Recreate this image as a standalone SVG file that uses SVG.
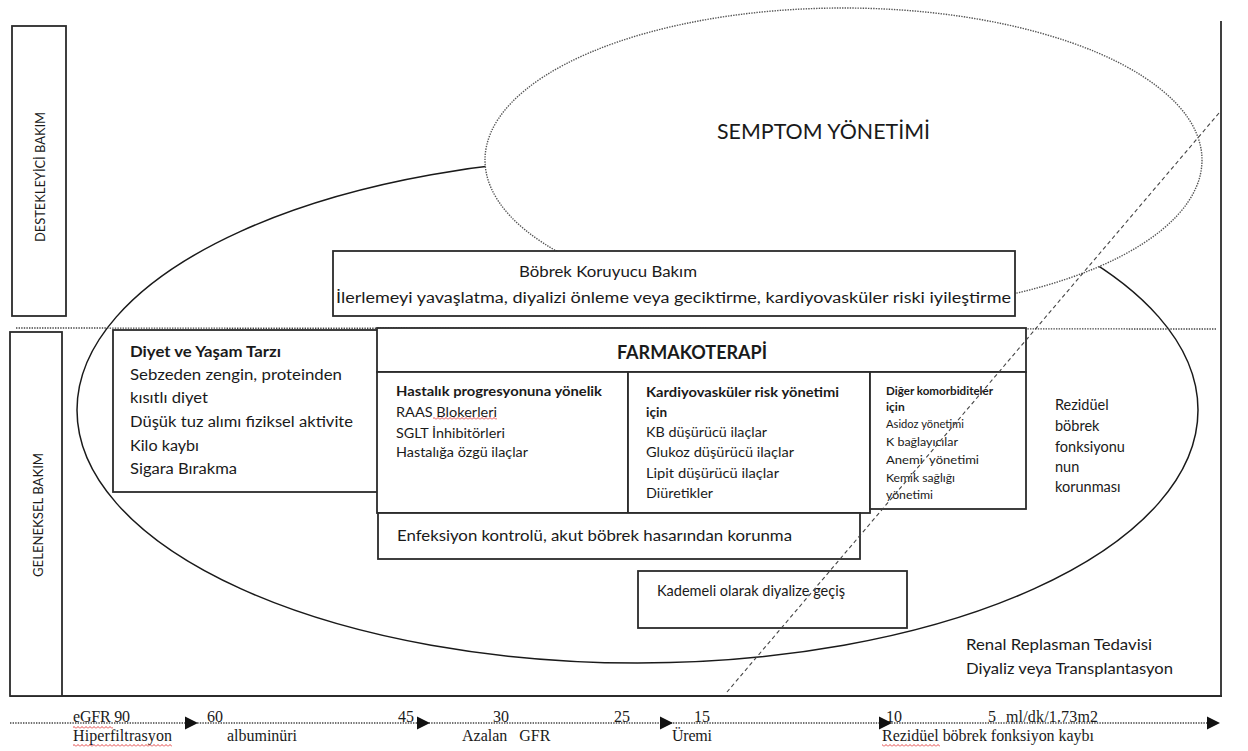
<svg xmlns="http://www.w3.org/2000/svg" width="1248" height="751" viewBox="0 0 1248 751">
<style>
.box{fill:#fff;stroke:#2b2b2b;stroke-width:1.8}
.ln{fill:none;stroke:#2b2b2b;stroke-width:1.8}
.dot{fill:none;stroke:#444;stroke-width:1.4;stroke-dasharray:1.4 1.2}
.dotw{fill:#fff;stroke:#555;stroke-width:1.4;stroke-dasharray:1.4 1.2}
.t{font-family:Lato,"Open Sans","DejaVu Sans",sans-serif;fill:#1a1a1a}
.b{font-weight:bold}
.ax{font-family:"Liberation Serif","Times New Roman",serif;font-size:16px;fill:#1a1a1a}
.pre{white-space:pre}
.wv{fill:url(#wavy)}
</style>
<defs>
<pattern id="wavy" width="4" height="3" patternUnits="userSpaceOnUse">
<path d="M0 2.5 L2 0.5 L4 2.5" fill="none" stroke="#e03030" stroke-width="0.9"/>
</pattern>
<polygon id="arr" points="0,0 -13,-6.5 -13,6.5" fill="#111"/>
</defs>
<rect width="1248" height="751" fill="#fff"/>

<g id="frame">
<ellipse id="main-ellipse" cx="637.5" cy="410" rx="560.5" ry="253" fill="none" stroke="#1a1a1a" stroke-width="1.5"/>
<g id="semptom">
<ellipse class="dotw" cx="843.5" cy="160" rx="358.5" ry="152"/>
<text class="t" x="717" y="139" font-size="22" textLength="213" lengthAdjust="spacingAndGlyphs">SEMPTOM YÖNETİMİ</text>
</g>
<line class="dot" x1="16" y1="328" x2="1217" y2="329"/>
<line class="ln" x1="1221" y1="21" x2="1221" y2="696"/>
<line class="ln" x1="10" y1="696" x2="1222" y2="696"/>
</g>

<g id="destekleyici">
<rect class="box" x="12" y="26" width="54" height="290"/>
<text class="t" font-size="13.5" text-anchor="middle" textLength="130" lengthAdjust="spacingAndGlyphs" transform="translate(44.5,177) rotate(-90)">DESTEKLEYİCİ BAKIM</text>
</g>
<g id="geleneksel">
<rect class="box" x="10" y="332" width="52" height="364"/>
<text class="t" font-size="13.5" text-anchor="middle" textLength="124" lengthAdjust="spacingAndGlyphs" transform="translate(42.5,515) rotate(-90)">GELENEKSEL BAKIM</text>
</g>

<g id="bobrek">
<rect class="box" x="333" y="251" width="682" height="65"/>
<text class="t" x="519" y="276.5" font-size="15.5" textLength="178" lengthAdjust="spacingAndGlyphs">Böbrek Koruyucu Bakım</text>
<text class="t" x="336" y="302.5" font-size="15.5" textLength="675" lengthAdjust="spacingAndGlyphs">İlerlemeyi yavaşlatma, diyalizi önleme veya geciktirme, kardiyovasküler riski iyileştirme</text>
</g>

<g id="diyet">
<rect class="box" x="113" y="330" width="265" height="162"/>
<text class="t b" x="130" y="357" font-size="14.5" textLength="151" lengthAdjust="spacingAndGlyphs">Diyet ve Yaşam Tarzı</text>
<text class="t" x="130" y="380" font-size="14.5" textLength="212" lengthAdjust="spacingAndGlyphs">Sebzeden zengin, proteinden</text>
<text class="t" x="130" y="403" font-size="14.5" textLength="78" lengthAdjust="spacingAndGlyphs">kısıtlı diyet</text>
<text class="t" x="130" y="427" font-size="14.5" textLength="223" lengthAdjust="spacingAndGlyphs">Düşük tuz alımı fiziksel aktivite</text>
<text class="t" x="130" y="451" font-size="14.5" textLength="69" lengthAdjust="spacingAndGlyphs">Kilo kaybı</text>
<text class="t" x="130" y="474" font-size="14.5" textLength="107" lengthAdjust="spacingAndGlyphs">Sigara Bırakma</text>
</g>

<g id="farmakoterapi">
<rect class="box" x="377" y="328" width="649" height="44"/>
<text class="t b" x="617" y="358.5" font-size="18" textLength="150" lengthAdjust="spacingAndGlyphs">FARMAKOTERAPİ</text>
</g>

<g id="hastalik">
<rect class="box" x="377" y="372" width="251" height="141"/>
<text class="t b" x="396" y="395.5" font-size="13.5" textLength="206" lengthAdjust="spacingAndGlyphs">Hastalık progresyonuna yönelik</text>
<text class="t" x="396" y="416.5" font-size="13.5" textLength="101" lengthAdjust="spacingAndGlyphs">RAAS Blokerleri</text>
<text class="t" x="396" y="437.5" font-size="13.5" textLength="109" lengthAdjust="spacingAndGlyphs">SGLT İnhibitörleri</text>
<text class="t" x="396" y="456.5" font-size="13.5" textLength="132" lengthAdjust="spacingAndGlyphs">Hastalığa özgü ilaçlar</text>
<rect class="wv" x="433" y="417" width="64" height="3"/>
</g>

<g id="kardiyo">
<rect class="box" x="628" y="372" width="242" height="141"/>
<text class="t b" x="646" y="396.5" font-size="13.5" textLength="193" lengthAdjust="spacingAndGlyphs">Kardiyovasküler risk yönetimi</text>
<text class="t b" x="646" y="416.5" font-size="13.5">için</text>
<text class="t" x="646" y="436.5" font-size="14" textLength="121" lengthAdjust="spacingAndGlyphs">KB düşürücü ilaçlar</text>
<text class="t" x="646" y="456.5" font-size="14" textLength="148" lengthAdjust="spacingAndGlyphs">Glukoz düşürücü ilaçlar</text>
<text class="t" x="646" y="477.5" font-size="14" textLength="133" lengthAdjust="spacingAndGlyphs">Lipit düşürücü ilaçlar</text>
<text class="t" x="646" y="497.5" font-size="14" textLength="67" lengthAdjust="spacingAndGlyphs">Diüretikler</text>
</g>

<g id="diger">
<rect class="box" x="870" y="372" width="156" height="137"/>
<text class="t b" x="886" y="395" font-size="12" textLength="107" lengthAdjust="spacingAndGlyphs">Diğer komorbiditeler</text>
<text class="t b" x="886" y="411" font-size="12">için</text>
<text class="t" x="886" y="428" font-size="11.8" textLength="78" lengthAdjust="spacingAndGlyphs">Asidoz yönetimi</text>
<text class="t" x="886" y="446" font-size="11.8" textLength="72" lengthAdjust="spacingAndGlyphs">K bağlayıcılar</text>
<text class="t pre" x="886" y="464" font-size="11.8" textLength="93" lengthAdjust="spacingAndGlyphs">Anemi  yönetimi</text>
<text class="t" x="886" y="482" font-size="11.8" textLength="69" lengthAdjust="spacingAndGlyphs">Kemik sağlığı</text>
<text class="t" x="886" y="499" font-size="11.8" textLength="47" lengthAdjust="spacingAndGlyphs">yönetimi</text>
</g>

<g id="enfeksiyon">
<rect class="box" x="378" y="513" width="482" height="46"/>
<text class="t" x="397" y="540.5" font-size="16" textLength="395" lengthAdjust="spacingAndGlyphs">Enfeksiyon kontrolü, akut böbrek hasarından korunma</text>
</g>

<g id="kademeli">
<rect class="box" x="638" y="571" width="269" height="57"/>
<text class="t" x="657" y="596" font-size="14.4" textLength="188" lengthAdjust="spacingAndGlyphs">Kademeli olarak diyalize geçiş</text>
</g>

<g id="rezidue-label">
<text class="t" x="1055" y="409.5" font-size="14.5">Rezidüel</text>
<text class="t" x="1055" y="430.5" font-size="14.5">böbrek</text>
<text class="t" x="1055" y="451.5" font-size="14.5">fonksiyonu</text>
<text class="t" x="1055" y="471.5" font-size="14.5">nun</text>
<text class="t" x="1055" y="491.5" font-size="14.5">korunması</text>
</g>

<g id="renal">
<text class="t" x="966" y="649.5" font-size="16" textLength="186" lengthAdjust="spacingAndGlyphs">Renal Replasman Tedavisi</text>
<text class="t" x="966" y="673.5" font-size="16" textLength="207" lengthAdjust="spacingAndGlyphs">Diyaliz veya Transplantasyon</text>
</g>

<g id="connectors">
<line x1="1219" y1="113" x2="727" y2="692" stroke="#444" stroke-width="1.1" stroke-dasharray="4 3"/>
<line class="dot" x1="10" y1="723" x2="1210" y2="723"/>
<use href="#arr" x="198" y="723"/>
<use href="#arr" x="430" y="723"/>
<use href="#arr" x="673" y="723"/>
<use href="#arr" x="892" y="723"/>
<use href="#arr" x="1220" y="723"/>
</g>

<g id="axis-labels">
<text class="ax" x="73" y="721.5" textLength="57">eGFR 90</text>
<text class="ax" x="207" y="721.5">60</text>
<text class="ax" x="398" y="721.5">45</text>
<text class="ax" x="493" y="721.5">30</text>
<text class="ax" x="614" y="721.5">25</text>
<text class="ax" x="694" y="721.5">15</text>
<text class="ax" x="886" y="721.5">10</text>
<text class="ax" x="988" y="721.5">5</text>
<text class="ax" x="1006" y="721.5" textLength="92">ml/dk/1.73m2</text>
<text class="ax" x="73" y="741" textLength="99">Hiperfiltrasyon</text>
<text class="ax" x="227" y="741" textLength="70">albuminüri</text>
<text class="ax pre" x="462" y="741">Azalan   GFR</text>
<text class="ax" x="672" y="741" textLength="40">Üremi</text>
<text class="ax" x="882" y="741" textLength="212">Rezidüel böbrek fonksiyon kaybı</text>
<rect class="wv" x="73" y="726" width="40" height="3"/>
<rect class="wv" x="73" y="744" width="99" height="3"/>
<rect class="wv" x="882" y="744" width="58" height="3"/>
</g>
</svg>
